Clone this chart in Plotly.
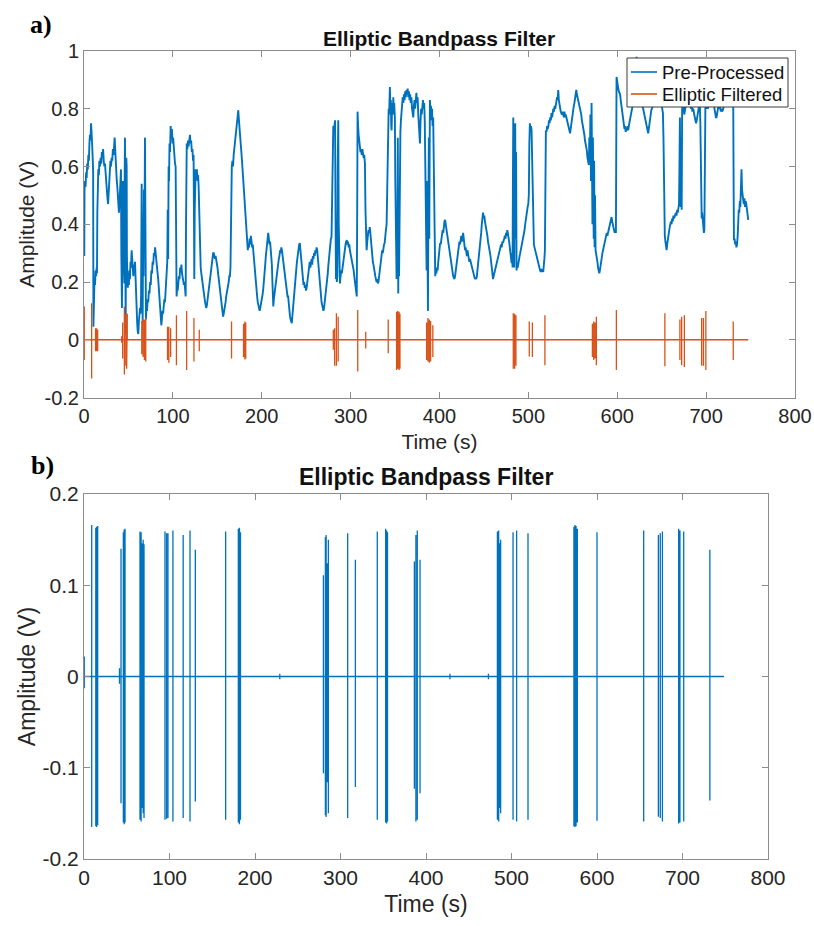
import plotly.graph_objects as go

# ---------------- data ----------------
# Panel a) pre-processed signal as (time s, amplitude V)
pre_points = [
    (0, 0.48), (0.3, 0.29), (0.6, 0.52), (1.1, 0.55), (1.8, 0.53), (2.4, 0.58), (3.0, 0.56), (3.6, 0.61), (4.3, 0.59),
    (4.9, 0.64), (5.5, 0.62), (6.1, 0.68), (6.7, 0.71), (7.3, 0.69), (7.9, 0.75), (8.5, 0.72), (9.0, 0.70), (9.4, 0.66),
    (9.9, 0.62), (10.3, 0.58), (10.6, 0.045), (11.2, 0.16), (11.8, 0.21), (12.4, 0.19), (13.0, 0.24), (13.6, 0.22),
    (14.2, 0.25), (14.6, 0.23), (15.0, 0.44), (15.5, 0.52), (16.1, 0.59), (16.7, 0.57), (17.3, 0.62), (18.0, 0.60),
    (18.7, 0.63), (19.4, 0.61), (20.1, 0.65), (20.8, 0.63), (21.5, 0.66), (22.2, 0.62), (22.9, 0.60), (23.6, 0.61),
    (24.3, 0.57), (25.0, 0.54), (25.7, 0.52), (26.4, 0.49), (27.1, 0.47), (27.6, 0.50), (28.3, 0.55), (29.0, 0.60),
    (29.7, 0.62), (30.4, 0.60), (31.1, 0.63), (31.8, 0.62), (32.5, 0.66), (33.2, 0.64), (33.9, 0.67), (34.5, 0.70),
    (35.1, 0.66), (35.7, 0.61), (36.3, 0.58), (36.9, 0.55), (37.5, 0.53), (38.1, 0.49), (38.7, 0.46), (39.3, 0.44),
    (39.9, 0.47), (40.5, 0.53), (41.0, 0.57), (41.6, 0.59), (42.0, 0.30), (42.7, 0.11), (43.2, 0.38), (43.7, 0.55),
    (44.2, 0.50), (44.8, 0.26), (45.4, 0.195), (45.8, 0.58), (46.1, 0.70), (46.5, 0.35), (46.9, 0.02), (47.3, 0.45),
    (47.6, 0.63), (48.0, 0.60), (48.3, 0.28), (48.7, 0.21), (49.3, 0.18), (49.9, 0.22), (50.5, 0.19), (51.1, 0.24),
    (51.7, 0.21), (52.3, 0.27), (52.9, 0.25), (53.6, 0.31), (54.2, 0.28), (54.8, 0.24), (55.5, 0.22), (56.1, 0.26),
    (56.7, 0.24), (57.4, 0.27), (58.0, 0.20), (58.6, 0.13), (59.2, 0.08), (59.8, 0.06), (60.4, 0.03), (61.1, 0.02),
    (61.7, 0.06), (62.3, 0.08), (63.0, 0.11), (63.6, 0.09), (64.2, 0.15), (64.9, 0.54), (65.3, 0.30), (66.0, 0.06),
    (66.5, 0.40), (67.0, 0.22), (67.5, 0.52), (68.0, 0.35), (68.6, 0.70), (69.1, 0.28), (69.7, 0.07), (70.3, 0.12),
    (70.9, 0.10), (71.6, 0.14), (72.3, 0.13), (73.0, 0.17), (73.7, 0.16), (74.4, 0.20), (75.1, 0.19), (75.8, 0.24),
    (76.5, 0.23), (77.2, 0.27), (77.9, 0.26), (78.6, 0.30), (79.3, 0.29), (80.0, 0.32), (80.7, 0.29), (81.4, 0.27),
    (82.1, 0.25), (82.8, 0.23), (83.5, 0.21), (84.2, 0.18), (84.9, 0.15), (85.6, 0.11), (86.3, 0.08), (87.0, 0.05),
    (87.6, 0.07), (88.3, 0.10), (89.0, 0.09), (89.7, 0.12), (90.4, 0.14), (91.1, 0.13), (91.8, 0.18), (92.5, 0.21),
    (93.2, 0.25), (93.7, 0.27), (94.2, 0.45), (94.7, 0.28), (95.2, 0.60), (95.7, 0.55), (96.2, 0.68), (96.8, 0.65),
    (97.5, 0.74), (98.2, 0.71), (98.9, 0.73), (99.6, 0.68), (100.3, 0.70), (101.0, 0.66), (101.7, 0.64), (102.4, 0.61),
    (103.1, 0.60), (103.6, 0.45), (104.2, 0.15), (104.8, 0.18), (105.4, 0.17), (106.1, 0.20), (106.8, 0.22),
    (107.5, 0.21), (108.2, 0.25), (108.9, 0.24), (109.6, 0.26), (110.3, 0.23), (111.0, 0.22), (111.7, 0.21),
    (112.4, 0.19), (113.1, 0.20), (113.8, 0.17), (114.4, 0.15), (114.8, 0.40), (115.2, 0.62), (115.6, 0.68),
    (116.3, 0.66), (117.0, 0.69), (117.7, 0.67), (118.4, 0.70), (119.2, 0.71), (119.9, 0.68), (120.6, 0.69),
    (121.3, 0.65), (122.0, 0.66), (122.7, 0.62), (123.3, 0.64), (123.8, 0.40), (124.1, 0.21), (124.6, 0.45),
    (125.1, 0.58), (125.6, 0.59), (126.3, 0.57), (127.0, 0.59), (127.7, 0.55), (128.4, 0.57), (129.0, 0.53),
    (129.6, 0.45), (130.1, 0.33), (130.6, 0.27), (131.3, 0.25), (132.0, 0.23), (132.7, 0.21), (133.4, 0.19),
    (134.1, 0.17), (134.8, 0.16), (135.5, 0.14), (136.2, 0.13), (136.9, 0.12), (137.6, 0.11), (138.3, 0.12),
    (139.0, 0.14), (139.7, 0.16), (140.4, 0.18), (141.1, 0.19), (141.8, 0.21), (142.5, 0.23), (143.2, 0.25),
    (143.9, 0.27), (144.6, 0.29), (145.3, 0.30), (146.0, 0.30), (146.7, 0.29), (147.4, 0.28), (148.1, 0.29),
    (148.8, 0.28), (149.5, 0.27), (150.2, 0.25), (150.9, 0.23), (151.6, 0.21), (152.3, 0.19), (153.0, 0.17),
    (153.7, 0.15), (154.4, 0.13), (155.1, 0.11), (155.8, 0.09), (156.5, 0.08), (157.2, 0.09), (157.9, 0.10),
    (158.6, 0.12), (159.3, 0.13), (160.0, 0.15), (160.7, 0.16), (161.4, 0.17), (162.1, 0.19), (162.8, 0.20),
    (163.5, 0.22), (164.2, 0.22), (164.8, 0.25), (165.3, 0.40), (165.8, 0.55), (166.3, 0.60), (167.0, 0.62),
    (167.7, 0.60), (168.4, 0.64), (169.1, 0.66), (169.8, 0.68), (170.5, 0.70), (171.2, 0.72), (171.9, 0.74),
    (172.6, 0.76), (173.2, 0.78), (173.6, 0.795), (174.1, 0.77), (174.7, 0.75), (175.3, 0.72), (175.9, 0.70),
    (176.6, 0.68), (177.3, 0.64), (178.0, 0.61), (178.6, 0.58), (179.2, 0.565), (179.8, 0.54), (180.4, 0.51),
    (181.1, 0.485), (181.7, 0.44), (182.3, 0.40), (183.0, 0.355), (183.6, 0.33), (184.3, 0.31), (185.0, 0.33),
    (185.7, 0.32), (186.4, 0.35), (187.1, 0.33), (187.8, 0.36), (188.5, 0.34), (189.2, 0.32), (189.9, 0.33),
    (190.6, 0.30), (191.3, 0.29), (192.0, 0.26), (192.7, 0.24), (193.4, 0.20), (194.1, 0.17), (194.8, 0.15),
    (195.5, 0.13), (196.2, 0.12), (196.9, 0.11), (197.6, 0.10), (198.3, 0.11), (199.0, 0.12), (199.7, 0.13),
    (200.4, 0.15), (201.1, 0.16), (201.8, 0.18), (202.5, 0.20), (203.2, 0.23), (203.9, 0.26), (204.6, 0.29),
    (205.3, 0.32), (206.0, 0.34), (206.7, 0.36), (207.3, 0.37), (208.0, 0.35), (208.7, 0.33), (209.4, 0.34),
    (210.1, 0.31), (210.8, 0.29), (211.4, 0.26), (212.0, 0.20), (212.5, 0.14), (213.0, 0.115), (213.6, 0.14),
    (214.3, 0.16), (215.0, 0.17), (215.7, 0.19), (216.4, 0.20), (217.1, 0.22), (217.8, 0.24), (218.5, 0.26),
    (219.2, 0.28), (219.9, 0.29), (220.6, 0.31), (221.3, 0.30), (222.0, 0.32), (222.7, 0.31), (223.4, 0.29),
    (224.1, 0.27), (224.8, 0.25), (225.5, 0.24), (226.2, 0.22), (226.9, 0.21), (227.6, 0.18), (228.3, 0.17),
    (229.0, 0.15), (229.7, 0.15), (230.4, 0.12), (231.1, 0.10), (231.8, 0.08), (232.5, 0.07), (233.2, 0.06),
    (233.8, 0.057), (234.4, 0.08), (235.1, 0.11), (235.8, 0.13), (236.5, 0.16), (237.2, 0.19), (237.9, 0.21),
    (238.6, 0.24), (239.3, 0.26), (240.0, 0.28), (240.7, 0.30), (241.4, 0.31), (242.1, 0.33), (242.8, 0.335),
    (243.5, 0.31), (244.2, 0.28), (244.9, 0.24), (245.6, 0.22), (246.3, 0.20), (247.0, 0.19), (247.7, 0.20),
    (248.4, 0.18), (249.1, 0.19), (249.8, 0.17), (250.5, 0.18), (251.2, 0.20), (251.9, 0.22), (252.6, 0.24),
    (253.3, 0.25), (254.0, 0.27), (254.7, 0.25), (255.4, 0.27), (256.1, 0.28), (256.8, 0.26), (257.5, 0.29),
    (258.2, 0.28), (258.9, 0.30), (259.6, 0.29), (260.3, 0.31), (261.0, 0.30), (261.7, 0.32), (262.4, 0.31),
    (263.1, 0.28), (263.8, 0.25), (264.5, 0.22), (265.2, 0.20), (265.9, 0.18), (266.6, 0.15), (267.3, 0.13),
    (268.0, 0.12), (268.7, 0.11), (269.4, 0.10), (270.1, 0.11), (270.8, 0.13), (271.5, 0.14), (272.2, 0.16),
    (272.9, 0.17), (273.6, 0.20), (274.3, 0.23), (275.0, 0.26), (275.7, 0.29), (276.4, 0.31), (277.1, 0.33),
    (277.8, 0.35), (278.5, 0.355), (279.2, 0.50), (279.8, 0.70), (280.5, 0.74), (281.0, 0.72), (281.5, 0.75),
    (282.0, 0.73), (282.5, 0.76), (283.0, 0.45), (283.5, 0.21), (284.0, 0.24), (284.5, 0.20), (285.0, 0.22),
    (285.5, 0.60), (286.1, 0.76), (286.6, 0.40), (287.2, 0.21), (288.0, 0.195), (288.7, 0.22), (289.4, 0.24),
    (290.1, 0.23), (290.8, 0.25), (291.5, 0.265), (292.2, 0.28), (292.9, 0.30), (293.6, 0.31), (294.3, 0.33),
    (295.0, 0.34), (295.7, 0.345), (296.4, 0.33), (297.1, 0.34), (297.8, 0.32), (298.5, 0.33), (299.2, 0.31),
    (299.9, 0.30), (300.6, 0.29), (301.3, 0.28), (302.0, 0.27), (302.7, 0.25), (303.4, 0.24), (304.1, 0.22),
    (304.8, 0.20), (305.5, 0.18), (306.2, 0.16), (306.9, 0.15), (307.4, 0.45), (307.8, 0.79), (308.4, 0.74),
    (309.0, 0.71), (309.7, 0.68), (310.4, 0.67), (311.1, 0.65), (311.8, 0.66), (312.5, 0.64), (313.2, 0.66),
    (313.9, 0.645), (314.6, 0.63), (315.3, 0.64), (316.1, 0.61), (316.7, 0.45), (317.3, 0.33), (318.0, 0.31),
    (318.7, 0.34), (319.4, 0.36), (320.1, 0.38), (320.8, 0.37), (321.5, 0.39), (322.2, 0.37), (322.9, 0.34),
    (323.6, 0.31), (324.3, 0.29), (325.0, 0.27), (325.7, 0.26), (326.4, 0.24), (327.1, 0.23), (327.8, 0.22),
    (328.5, 0.21), (329.2, 0.20), (329.9, 0.21), (330.6, 0.195), (331.3, 0.20), (332.0, 0.22), (332.7, 0.24),
    (333.4, 0.26), (334.1, 0.28), (334.8, 0.29), (335.5, 0.31), (336.2, 0.30), (336.9, 0.32), (337.6, 0.33),
    (338.3, 0.335), (339.0, 0.35), (339.7, 0.38), (340.5, 0.40), (341.2, 0.52), (341.8, 0.70), (342.3, 0.74),
    (342.8, 0.80), (343.3, 0.78), (343.8, 0.86), (344.2, 0.875), (344.7, 0.80), (345.2, 0.83), (345.7, 0.74),
    (346.1, 0.725), (346.6, 0.80), (347.1, 0.82), (347.5, 0.78), (348.0, 0.84), (348.5, 0.80), (349.0, 0.82),
    (349.4, 0.78), (349.8, 0.77), (350.3, 0.55), (350.8, 0.40), (351.2, 0.25), (351.7, 0.21), (352.2, 0.40),
    (352.6, 0.22), (353.1, 0.70), (353.6, 0.16), (354.0, 0.45), (354.5, 0.22), (355.0, 0.60), (355.5, 0.68),
    (356.0, 0.72), (356.6, 0.76), (357.3, 0.79), (358.0, 0.81), (358.6, 0.84), (359.3, 0.82), (360.0, 0.85),
    (360.7, 0.83), (361.4, 0.86), (362.1, 0.84), (362.8, 0.865), (363.5, 0.85), (364.2, 0.87), (364.9, 0.84),
    (365.6, 0.86), (366.3, 0.83), (367.0, 0.85), (367.7, 0.82), (368.4, 0.84), (369.1, 0.80), (369.8, 0.78),
    (370.5, 0.77), (371.2, 0.81), (371.9, 0.83), (372.6, 0.80), (373.3, 0.84), (374.0, 0.855), (374.7, 0.82),
    (375.4, 0.84), (376.1, 0.78), (376.8, 0.74), (377.4, 0.70), (378.0, 0.68), (378.6, 0.75), (379.3, 0.80),
    (380.0, 0.78), (380.7, 0.82), (381.4, 0.83), (382.1, 0.80), (382.8, 0.82), (383.4, 0.76), (384.0, 0.60),
    (384.6, 0.40), (385.1, 0.30), (385.5, 0.24), (386.0, 0.55), (386.5, 0.25), (387.0, 0.10), (387.5, 0.45),
    (388.0, 0.70), (388.5, 0.35), (389.2, 0.83), (389.8, 0.78), (390.4, 0.81), (391.0, 0.76), (391.6, 0.80),
    (392.2, 0.74), (392.9, 0.77), (393.5, 0.60), (394.0, 0.45), (394.6, 0.25), (395.2, 0.22), (395.8, 0.24),
    (396.5, 0.23), (397.2, 0.25), (397.9, 0.24), (398.6, 0.27), (399.3, 0.29), (400.0, 0.31), (400.7, 0.335),
    (401.4, 0.33), (402.1, 0.35), (402.8, 0.36), (403.5, 0.38), (404.2, 0.37), (404.9, 0.40), (405.6, 0.41),
    (406.3, 0.415), (407.0, 0.40), (407.7, 0.38), (408.4, 0.36), (409.1, 0.35), (409.8, 0.33), (410.5, 0.32),
    (411.2, 0.31), (411.9, 0.30), (412.6, 0.28), (413.3, 0.26), (414.0, 0.25), (414.7, 0.23), (415.4, 0.22),
    (416.1, 0.215), (416.8, 0.21), (417.5, 0.22), (418.2, 0.24), (418.9, 0.26), (419.6, 0.28), (420.3, 0.30),
    (421.0, 0.31), (421.7, 0.32), (422.4, 0.34), (423.1, 0.33), (423.8, 0.35), (424.5, 0.36), (425.2, 0.34),
    (425.9, 0.36), (426.6, 0.37), (427.3, 0.35), (428.0, 0.33), (428.7, 0.31), (429.4, 0.32), (430.1, 0.30),
    (430.8, 0.29), (431.5, 0.31), (432.2, 0.29), (432.9, 0.28), (433.6, 0.27), (434.3, 0.28), (435.0, 0.27),
    (435.7, 0.265), (436.4, 0.26), (437.1, 0.25), (437.8, 0.24), (438.5, 0.23), (439.2, 0.22), (439.9, 0.21),
    (440.6, 0.215), (441.3, 0.21), (442.0, 0.22), (442.7, 0.24), (443.4, 0.26), (444.1, 0.28), (444.8, 0.30),
    (445.5, 0.31), (446.2, 0.34), (446.9, 0.37), (447.6, 0.40), (448.3, 0.42), (449.0, 0.44), (449.7, 0.42),
    (450.4, 0.43), (451.1, 0.41), (451.8, 0.40), (452.5, 0.39), (453.2, 0.38), (453.9, 0.36), (454.6, 0.34),
    (455.3, 0.33), (456.0, 0.32), (456.7, 0.31), (457.4, 0.29), (458.1, 0.27), (458.8, 0.25), (459.5, 0.23),
    (460.2, 0.21), (460.9, 0.22), (461.6, 0.23), (462.3, 0.24), (463.0, 0.245), (463.7, 0.25), (464.4, 0.26),
    (465.1, 0.27), (465.8, 0.29), (466.5, 0.30), (467.2, 0.31), (467.9, 0.31), (468.6, 0.32), (469.3, 0.33),
    (470.0, 0.32), (470.7, 0.34), (471.4, 0.335), (472.1, 0.34), (472.8, 0.35), (473.5, 0.36), (474.2, 0.35),
    (474.9, 0.37), (475.6, 0.36), (476.3, 0.38), (477.0, 0.37), (477.7, 0.36), (478.4, 0.34), (479.1, 0.32),
    (479.8, 0.30), (480.5, 0.28), (481.1, 0.265), (481.7, 0.30), (482.2, 0.25), (482.6, 0.55), (483.0, 0.77),
    (483.4, 0.30), (483.8, 0.72), (484.1, 0.25), (484.6, 0.70), (485.2, 0.75), (485.7, 0.35), (486.2, 0.65),
    (486.7, 0.24), (487.3, 0.26), (488.0, 0.25), (488.7, 0.27), (489.4, 0.28), (490.1, 0.29), (490.8, 0.30),
    (491.5, 0.31), (492.2, 0.32), (492.9, 0.33), (493.6, 0.34), (494.3, 0.355), (495.0, 0.37), (495.7, 0.38),
    (496.4, 0.40), (497.1, 0.42), (497.8, 0.43), (498.5, 0.44), (499.2, 0.46), (499.9, 0.47), (500.5, 0.50),
    (501.1, 0.68), (501.7, 0.75), (502.3, 0.72), (503.0, 0.74), (503.6, 0.725), (504.2, 0.60), (504.8, 0.45),
    (505.5, 0.345), (506.2, 0.33), (506.9, 0.32), (507.6, 0.31), (508.3, 0.30), (509.0, 0.29), (509.7, 0.28),
    (510.4, 0.27), (511.1, 0.26), (511.8, 0.25), (512.5, 0.245), (513.2, 0.24), (513.9, 0.235), (514.6, 0.245),
    (515.3, 0.235), (516.0, 0.24), (516.7, 0.235), (517.4, 0.25), (518.0, 0.28), (518.6, 0.31), (519.2, 0.50),
    (519.7, 0.725), (520.4, 0.72), (521.1, 0.74), (521.8, 0.73), (522.5, 0.74), (523.2, 0.76), (523.9, 0.75),
    (524.6, 0.77), (525.3, 0.76), (526.0, 0.785), (526.7, 0.77), (527.4, 0.79), (528.1, 0.80), (528.8, 0.79),
    (529.5, 0.81), (530.2, 0.80), (530.9, 0.82), (531.6, 0.82), (532.3, 0.84), (533.0, 0.83), (533.6, 0.865),
    (534.3, 0.83), (535.0, 0.81), (535.7, 0.80), (536.4, 0.79), (537.1, 0.785), (537.8, 0.78), (538.5, 0.79),
    (539.2, 0.78), (539.9, 0.77), (540.6, 0.79), (541.3, 0.77), (542.0, 0.78), (542.7, 0.77), (543.4, 0.76),
    (544.1, 0.75), (544.8, 0.74), (545.5, 0.73), (546.2, 0.72), (546.9, 0.715), (547.6, 0.73), (548.3, 0.75),
    (549.0, 0.76), (549.7, 0.78), (550.4, 0.795), (551.1, 0.81), (551.8, 0.82), (552.5, 0.84), (553.2, 0.85),
    (553.9, 0.865), (554.6, 0.85), (555.3, 0.84), (556.0, 0.83), (556.7, 0.82), (557.4, 0.82), (558.1, 0.81),
    (558.8, 0.79), (559.5, 0.78), (560.2, 0.76), (560.9, 0.75), (561.6, 0.74), (562.3, 0.72), (563.0, 0.71),
    (563.7, 0.69), (564.4, 0.68), (565.1, 0.66), (565.8, 0.655), (566.5, 0.63), (567.2, 0.62), (568.0, 0.605),
    (568.6, 0.70), (569.2, 0.62), (569.8, 0.78), (570.4, 0.55), (571.1, 0.82), (571.6, 0.60), (572.1, 0.40),
    (572.6, 0.70), (573.0, 0.47), (573.5, 0.35), (574.0, 0.62), (574.5, 0.32), (575.0, 0.50), (575.6, 0.31),
    (576.3, 0.30), (577.0, 0.28), (577.7, 0.27), (578.4, 0.25), (579.1, 0.24), (579.8, 0.23), (580.5, 0.24),
    (581.2, 0.26), (581.9, 0.27), (582.6, 0.29), (583.3, 0.30), (584.0, 0.31), (584.7, 0.32), (585.4, 0.33),
    (586.1, 0.34), (586.8, 0.35), (587.5, 0.36), (588.2, 0.37), (588.9, 0.36), (589.6, 0.37), (590.3, 0.38),
    (591.0, 0.39), (591.7, 0.40), (592.4, 0.41), (593.1, 0.42), (593.6, 0.425), (594.3, 0.41), (595.0, 0.40),
    (595.7, 0.39), (596.4, 0.38), (597.1, 0.37), (597.8, 0.38), (598.5, 0.37), (599.2, 0.91), (599.8, 0.89),
    (600.4, 0.88), (601.1, 0.87), (601.8, 0.86), (602.5, 0.855), (603.2, 0.85), (603.9, 0.83), (604.6, 0.81),
    (605.3, 0.79), (606.0, 0.77), (606.7, 0.75), (607.4, 0.74), (608.1, 0.73), (608.8, 0.74), (609.5, 0.72),
    (610.2, 0.73), (610.9, 0.725), (611.6, 0.74), (612.3, 0.725), (613.0, 0.74), (613.7, 0.75), (614.4, 0.76),
    (615.1, 0.77), (615.8, 0.78), (616.5, 0.80), (617.2, 0.81), (617.9, 0.83), (618.6, 0.84), (619.3, 0.85),
    (620.0, 0.87), (620.8, 0.92), (621.7, 0.98), (622.3, 0.90), (623.0, 0.87), (623.7, 0.86), (624.4, 0.87),
    (625.1, 0.865), (625.8, 0.85), (626.5, 0.84), (627.2, 0.83), (627.9, 0.82), (628.6, 0.81), (629.3, 0.80),
    (630.0, 0.79), (630.7, 0.78), (631.4, 0.77), (632.1, 0.76), (632.8, 0.75), (633.5, 0.73), (634.2, 0.72),
    (634.8, 0.715), (635.5, 0.73), (636.2, 0.75), (636.9, 0.77), (637.6, 0.78), (638.3, 0.795), (639.0, 0.80),
    (639.7, 0.81), (640.4, 0.82), (641.1, 0.82), (641.8, 0.83), (642.5, 0.82), (643.2, 0.84), (644.0, 0.85),
    (645.0, 0.86), (646.0, 0.86), (647.0, 0.87), (648.0, 0.85), (649.0, 0.84), (650.0, 0.82), (650.8, 0.80),
    (651.4, 0.785), (652.0, 0.70), (652.5, 0.50), (652.9, 0.40), (653.5, 0.36), (654.2, 0.34), (654.9, 0.32),
    (655.5, 0.31), (656.2, 0.33), (656.9, 0.35), (657.6, 0.36), (658.3, 0.37), (659.0, 0.39), (659.7, 0.40),
    (660.4, 0.41), (661.1, 0.40), (661.8, 0.42), (662.5, 0.41), (663.2, 0.43), (663.9, 0.42), (664.6, 0.425),
    (665.3, 0.43), (666.0, 0.44), (666.7, 0.43), (667.4, 0.45), (668.1, 0.44), (668.8, 0.46), (669.5, 0.47),
    (670.0, 0.60), (670.5, 0.77), (671.0, 0.50), (671.5, 0.46), (672.0, 0.70), (672.5, 0.45), (673.0, 0.80),
    (673.6, 0.82), (674.2, 0.79), (674.8, 0.81), (675.4, 0.78), (676.1, 0.795), (676.8, 0.81), (677.5, 0.82),
    (678.2, 0.83), (678.9, 0.82), (679.6, 0.83), (680.3, 0.84), (681.0, 0.82), (681.7, 0.83), (682.4, 0.81),
    (683.1, 0.80), (683.8, 0.81), (684.5, 0.79), (685.2, 0.80), (685.9, 0.795), (686.6, 0.78), (687.3, 0.77),
    (688.0, 0.76), (688.7, 0.75), (689.4, 0.76), (690.1, 0.78), (690.8, 0.79), (691.5, 0.80), (692.2, 0.81),
    (692.9, 0.82), (693.5, 0.75), (694.0, 0.55), (694.5, 0.43), (695.0, 0.42), (695.5, 0.44), (696.0, 0.41),
    (696.5, 0.39), (697.0, 0.38), (697.5, 0.37), (698.0, 0.38), (698.6, 0.60), (699.2, 0.82), (699.8, 0.80),
    (700.5, 0.81), (701.2, 0.82), (701.9, 0.80), (702.6, 0.81), (703.3, 0.83), (704.0, 0.81), (704.7, 0.82),
    (705.4, 0.83), (706.1, 0.82), (706.8, 0.84), (707.5, 0.83), (708.2, 0.83), (708.9, 0.81), (709.6, 0.79),
    (710.3, 0.78), (711.0, 0.77), (711.7, 0.77), (712.4, 0.79), (713.1, 0.80), (713.8, 0.81), (714.5, 0.80),
    (715.2, 0.81), (715.9, 0.80), (716.6, 0.79), (717.3, 0.80), (718.0, 0.79), (718.7, 0.795), (719.4, 0.80),
    (720.1, 0.81), (720.8, 0.82), (721.5, 0.81), (722.2, 0.82), (722.9, 0.83), (723.6, 0.82), (724.3, 0.83),
    (725.0, 0.82), (725.7, 0.83), (726.4, 0.82), (727.1, 0.83), (727.8, 0.82), (728.5, 0.83), (729.2, 0.82),
    (729.9, 0.82), (730.5, 0.82), (731.0, 0.50), (731.3, 0.345), (732.0, 0.35), (732.7, 0.33), (733.4, 0.34),
    (734.1, 0.32), (734.8, 0.33), (735.5, 0.36), (736.1, 0.425), (736.7, 0.45), (737.3, 0.44), (737.9, 0.48),
    (738.5, 0.46), (739.1, 0.50), (739.8, 0.59), (740.4, 0.52), (741.0, 0.49), (741.7, 0.485), (742.4, 0.47),
    (743.1, 0.49), (743.8, 0.46), (744.5, 0.48), (745.2, 0.47), (745.9, 0.45), (746.6, 0.44), (747.4, 0.415),
]
pre_t = [p[0] for p in pre_points]
pre_v = [p[1] for p in pre_points]

# Panel a) elliptic filtered bursts: (time, positive peak, negative peak)
filt_a = [(0.3, 0.115, -0.07), (8.6, 0.126, -0.134),
          (13.0, 0.04, -0.04), (14.2, 0.04, -0.04), (15.4, 0.035, -0.04),
          (42.4, 0.012, -0.01), (43.5, 0.06, -0.065), (45.4, 0.115, -0.12),
          (47.0, 0.09, -0.09), (48.0, 0.085, -0.10), (48.7, 0.09, -0.09),
          (65.0, 0.065, -0.05), (66.5, 0.07, -0.06), (68.0, 0.07, -0.07), (69.5, 0.075, -0.075),
          (94.0, 0.045, -0.07), (95.5, 0.045, -0.08), (97.5, 0.04, -0.06),
          (104.0, 0.085, -0.088), (115.5, 0.10, -0.105), (123.7, 0.075, -0.075), (129.7, 0.035, -0.04),
          (166.0, 0.063, -0.065), (179.5, 0.055, -0.06), (181.0, 0.063, -0.068), (182.0, 0.06, -0.065),
          (280.5, 0.035, -0.035), (282.0, 0.04, -0.09), (284.0, 0.092, -0.09), (286.0, 0.08, -0.075),
          (308.0, 0.103, -0.11), (317.0, 0.028, -0.03), (342.3, 0.07, -0.047),
          (351.7, 0.097, -0.105), (353.0, 0.10, -0.10), (354.5, 0.097, -0.105), (355.5, 0.09, -0.10),
          (385.5, 0.06, -0.07), (387.0, 0.075, -0.075), (388.5, 0.07, -0.08), (390.0, 0.065, -0.075),
          (392.5, 0.05, -0.06),
          (483.0, 0.092, -0.10), (484.5, 0.09, -0.10), (486.0, 0.085, -0.09),
          (501.0, 0.063, -0.058), (504.5, 0.06, -0.06), (518.6, 0.085, -0.088),
          (572.0, 0.055, -0.06), (573.5, 0.063, -0.07), (575.0, 0.06, -0.065), (576.5, 0.08, -0.088),
          (599.0, 0.103, -0.105), (653.6, 0.092, -0.092),
          (670.5, 0.07, -0.07), (672.5, 0.08, -0.088), (675.5, 0.085, -0.094),
          (695.0, 0.075, -0.09), (697.0, 0.075, -0.09), (699.7, 0.10, -0.105), (730.5, 0.063, -0.07)]
filt_a_end = 747.4

# Panel b) elliptic filtered bursts: (time, positive peak, negative peak)
filt_b = [(0.3, 0.022, -0.013), (9.0, 0.166, -0.165),
          (13.8, 0.163, -0.164), (14.8, 0.164, -0.165), (16.0, 0.165, -0.163),
          (41.5, 0.009, -0.008), (43.3, 0.14, -0.139),
          (46.0, 0.158, -0.16), (47.0, 0.161, -0.162), (48.0, 0.162, -0.16),
          (65.5, 0.159, -0.157), (66.8, 0.158, -0.159), (68.0, 0.146, -0.144), (69.2, 0.15, -0.15),
          (70.2, 0.145, -0.155),
          (94.7, 0.159, -0.157), (96.6, 0.157, -0.156), (98.2, 0.157, -0.155),
          (104.0, 0.16, -0.159), (116.0, 0.155, -0.155), (124.0, 0.16, -0.159), (130.2, 0.139, -0.137),
          (165.7, 0.159, -0.157), (180.5, 0.162, -0.16), (181.8, 0.163, -0.162), (183.0, 0.158, -0.157),
          (229.0, 0.003, -0.003),
          (280.0, 0.111, -0.106), (282.3, 0.153, -0.152), (283.2, 0.155, -0.154), (284.5, 0.124, -0.116),
          (285.8, 0.15, -0.15),
          (308.4, 0.157, -0.155), (317.4, 0.128, -0.121), (343.0, 0.159, -0.157),
          (352.8, 0.162, -0.16), (354.0, 0.16, -0.161), (355.0, 0.158, -0.159),
          (386.4, 0.126, -0.123), (388.2, 0.155, -0.159), (389.8, 0.16, -0.157), (393.0, 0.128, -0.128),
          (428.0, 0.003, -0.003), (473.0, 0.003, -0.003),
          (483.5, 0.159, -0.157), (485.0, 0.16, -0.159), (486.3, 0.146, -0.144), (487.3, 0.15, -0.15),
          (501.8, 0.158, -0.157), (506.0, 0.16, -0.159), (519.3, 0.157, -0.157),
          (573.0, 0.164, -0.164), (574.2, 0.166, -0.165), (575.5, 0.165, -0.164), (577.0, 0.162, -0.16),
          (600.0, 0.158, -0.158), (654.6, 0.16, -0.159),
          (671.8, 0.155, -0.1536), (674.0, 0.157, -0.155), (676.5, 0.159, -0.159),
          (695.5, 0.162, -0.161), (697.0, 0.16, -0.16), (701.4, 0.159, -0.159), (732.0, 0.139, -0.136)]
filt_b_end = 748.5

x_ticks = [0, 100, 200, 300, 400, 500, 600, 700, 800]
ya_ticks = [-0.2, 0, 0.2, 0.4, 0.6, 0.8, 1]
ya_text = ["-0.2", "0", "0.2", "0.4", "0.6", "0.8", "1"]
yb_ticks = [-0.2, -0.1, 0, 0.1, 0.2]
yb_text = ["-0.2", "-0.1", "0", "0.1", "0.2"]

title_text = "Elliptic Bandpass Filter"
x_title = "Time (s)"
y_title = "Amplitude (V)"
legend_names = ["Pre-Processed", "Elliptic Filtered"]


def burst_series(bursts, end):
    xs, ys = [0.0], [0.0]
    for t, up, dn in bursts:
        xs += [t, t, t, t]
        ys += [0.0, up, dn, 0.0]
    xs.append(end)
    ys.append(0.0)
    return xs, ys


W, H = 814, 926
def fx(p):
    return p / W
def fy(p):
    return 1 - p / H

BLUE = "#0072BD"
ORANGE = "#D95319"
AXC = "#8c8c8c"
TXT = "#262626"
FONT = "Liberation Sans, Arial, Helvetica, sans-serif"

fig = go.Figure()
fig.add_trace(go.Scatter(x=pre_t, y=pre_v, mode="lines", name=legend_names[0], showlegend=False,
                         line=dict(color=BLUE, width=1.9), xaxis="x", yaxis="y"))
ax_, ay_ = burst_series(filt_a, filt_a_end)
fig.add_trace(go.Scatter(x=ax_, y=ay_, mode="lines", name=legend_names[1], showlegend=False,
                         line=dict(color=ORANGE, width=1.3), xaxis="x", yaxis="y"))
bx_, by_ = burst_series(filt_b, filt_b_end)
fig.add_trace(go.Scatter(x=bx_, y=by_, mode="lines", showlegend=False,
                         line=dict(color=BLUE, width=1.3), xaxis="x2", yaxis="y2"))

common = dict(showline=True, linecolor=AXC, linewidth=1, mirror="ticks", ticks="inside",
              ticklen=6, tickcolor=AXC, showgrid=False, zeroline=False, automargin=False)

fig.update_layout(
    width=W, height=H, margin=dict(l=0, r=0, t=0, b=0, autoexpand=False),
    paper_bgcolor="white", plot_bgcolor="white",
    font=dict(family=FONT, color=TXT),
    xaxis=dict(domain=[fx(84), fx(795)], range=[0, 800], tickvals=x_ticks, anchor="y",
               tickfont=dict(size=20), title=dict(text=x_title, font=dict(size=21), standoff=8), **common),
    yaxis=dict(domain=[fy(397.5), fy(51)], range=[-0.2, 1], tickvals=ya_ticks, ticktext=ya_text,
               anchor="x", tickfont=dict(size=20), title=dict(text=y_title, font=dict(size=21), standoff=4),
               **common),
    xaxis2=dict(domain=[fx(84), fx(768)], range=[0, 800], tickvals=x_ticks, anchor="y2",
                tickfont=dict(size=21), title=dict(text=x_title, font=dict(size=23), standoff=7), **common),
    yaxis2=dict(domain=[fy(859), fy(494)], range=[-0.2, 0.2], tickvals=yb_ticks, ticktext=yb_text,
                anchor="x2", tickfont=dict(size=21), title=dict(text=y_title, font=dict(size=23), standoff=0),
                **common),
    showlegend=False,
)

# legend box (drawn as shapes + text, MATLAB style)
fig.add_shape(type="rect", xref="paper", yref="paper", x0=fx(627), x1=fx(788), y0=fy(107), y1=fy(58),
              fillcolor="white", line=dict(color="#3a3a3a", width=1), layer="above")
for i, (name, col) in enumerate(zip(legend_names, [BLUE, ORANGE])):
    yy = fy(72 + 22 * i)
    fig.add_shape(type="line", xref="paper", yref="paper", x0=fx(631), x1=fx(657), y0=yy, y1=yy,
                  line=dict(color=col, width=1.6), layer="above")
    fig.add_annotation(x=fx(660), y=yy, xref="paper", yref="paper", text=name, showarrow=False,
                       xanchor="left", yanchor="middle", font=dict(size=18.5, color="#111111"))

fig.add_annotation(x=fx(439.5), y=fy(38), xref="paper", yref="paper", text="<b>" + title_text + "</b>",
                   showarrow=False, font=dict(size=21, color="#111111"), xanchor="center", yanchor="middle")
fig.add_annotation(x=fx(426), y=fy(477), xref="paper", yref="paper", text="<b>" + title_text + "</b>",
                   showarrow=False, font=dict(size=23, color="#111111"), xanchor="center", yanchor="middle")
fig.add_annotation(x=fx(28), y=fy(25), xref="paper", yref="paper", text="<b>a)</b>",
                   showarrow=False, font=dict(size=26, color="#000000", family="Liberation Serif, Times New Roman, serif"),
                   xanchor="left", yanchor="middle")
fig.add_annotation(x=fx(29), y=fy(465), xref="paper", yref="paper", text="<b>b)</b>",
                   showarrow=False, font=dict(size=26, color="#000000", family="Liberation Serif, Times New Roman, serif"),
                   xanchor="left", yanchor="middle")

fig.write_html("out.html")
